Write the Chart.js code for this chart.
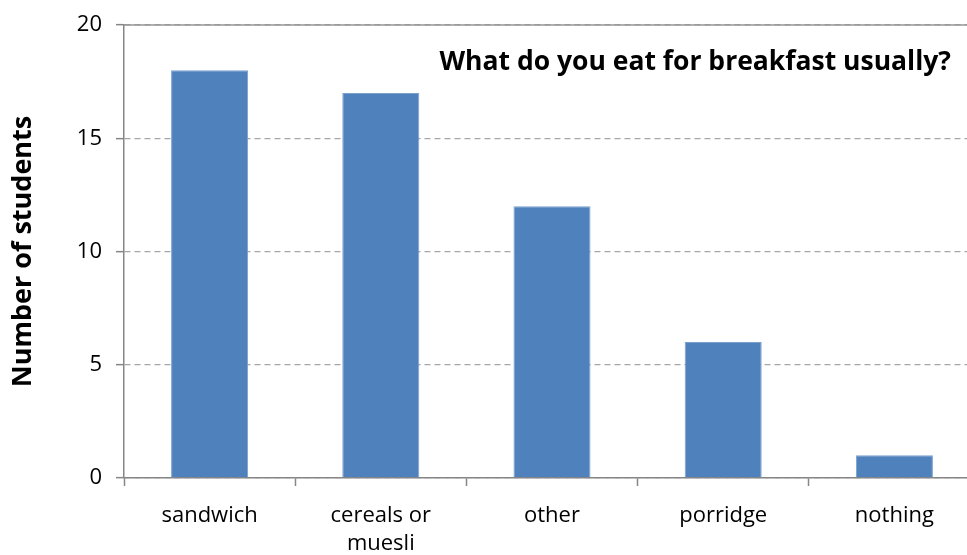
<!DOCTYPE html>
<html>
<head>
<meta charset="utf-8">
<script src="https://cdn.jsdelivr.net/npm/chart.js@4"></script>
<style>
  html, body { margin: 0; padding: 0; background: #fff; overflow: hidden; }
  #wrap { width: 980px; height: 555px; }
</style>
</head>
<body>
<div id="wrap"><canvas id="chart"></canvas></div>
<script>
// data
var categories = ["sandwich", ["cereals or", "muesli"], "other", "porridge", "nothing"];
var students = [18, 17, 12, 6, 1];
var yTicks = [0, 5, 10, 15, 20];

var chartTitle = "What do you eat for breakfast usually?";
var yTitle = "Number of students";
var fontName = "'Open Sans', sans-serif";
var axisColor = "#868686";

// title drawn inside the plot area, top right, plus solid top border line
var innerTitle = {
  id: "innerTitle",
  afterDraw: function(chart) {
    var c = chart.ctx, a = chart.chartArea;
    c.save();
    c.strokeStyle = "#969696";
    c.lineWidth = 1.5;
    c.beginPath();
    c.moveTo(a.left, a.top);
    c.lineTo(a.right, a.top);
    c.stroke();
    c.font = "bold 26.5px " + fontName;
    c.fillStyle = "#000";
    c.textAlign = "right";
    c.textBaseline = "middle";
    c.fillText(chartTitle, a.right - 29, a.top + 37);
    c.restore();
  }
};

var ctx = document.getElementById("chart");
var chart = new Chart(ctx, {
  type: "bar",
  data: {
    labels: categories,
    datasets: [{
      data: students,
      backgroundColor: "#4F81BD",
      borderColor: "#7AA0CD",
      borderWidth: 1,
      barPercentage: 0.45,
      categoryPercentage: 1
    }]
  },
  options: {
    responsive: true,
    maintainAspectRatio: false,
    animation: false,
    layout: { padding: { top: 25, left: 0, right: 0, bottom: 0 } },
    plugins: {
      legend: { display: false },
      tooltip: { enabled: false }
    },
    scales: {
      x: {
        offset: true,
        border: { display: true, color: axisColor, width: 1.5 },
        grid: {
          offset: true,
          drawOnChartArea: false,
          drawTicks: true,
          tickLength: 8,
          tickColor: axisColor,
          tickWidth: 1.5
        },
        ticks: {
          color: "#000",
          font: { family: fontName, size: 22, lineHeight: 1.3 },
          padding: 15,
          maxRotation: 0
        },
        afterFit: function(s) { s.height = 77; s.paddingLeft = 0; s.paddingRight = 0; }
      },
      y: {
        min: 0,
        max: 20,
        afterBuildTicks: function(s) {
          s.ticks = yTicks.map(function(v) { return { value: v }; });
        },
        border: { display: true, color: axisColor, width: 1.5, dash: [6, 4] },
        grid: {
          color: "#A6A6A6",
          lineWidth: 1.3,
          tickLength: 8,
          tickColor: axisColor,
          tickWidth: 1.5
        },
        ticks: {
          color: "#000",
          font: { family: fontName, size: 22 },
          padding: 14
        },
        title: {
          display: true,
          text: yTitle,
          color: "#000",
          font: { family: fontName, size: 27, weight: "bold", lineHeight: 1.2 },
          padding: { top: 7, bottom: 10 }
        },
        afterFit: function(s) { s.width = 124; s.paddingTop = 0; s.paddingBottom = 0; }
      }
    }
  },
  plugins: [innerTitle]
});
</script>
</body>
</html>
